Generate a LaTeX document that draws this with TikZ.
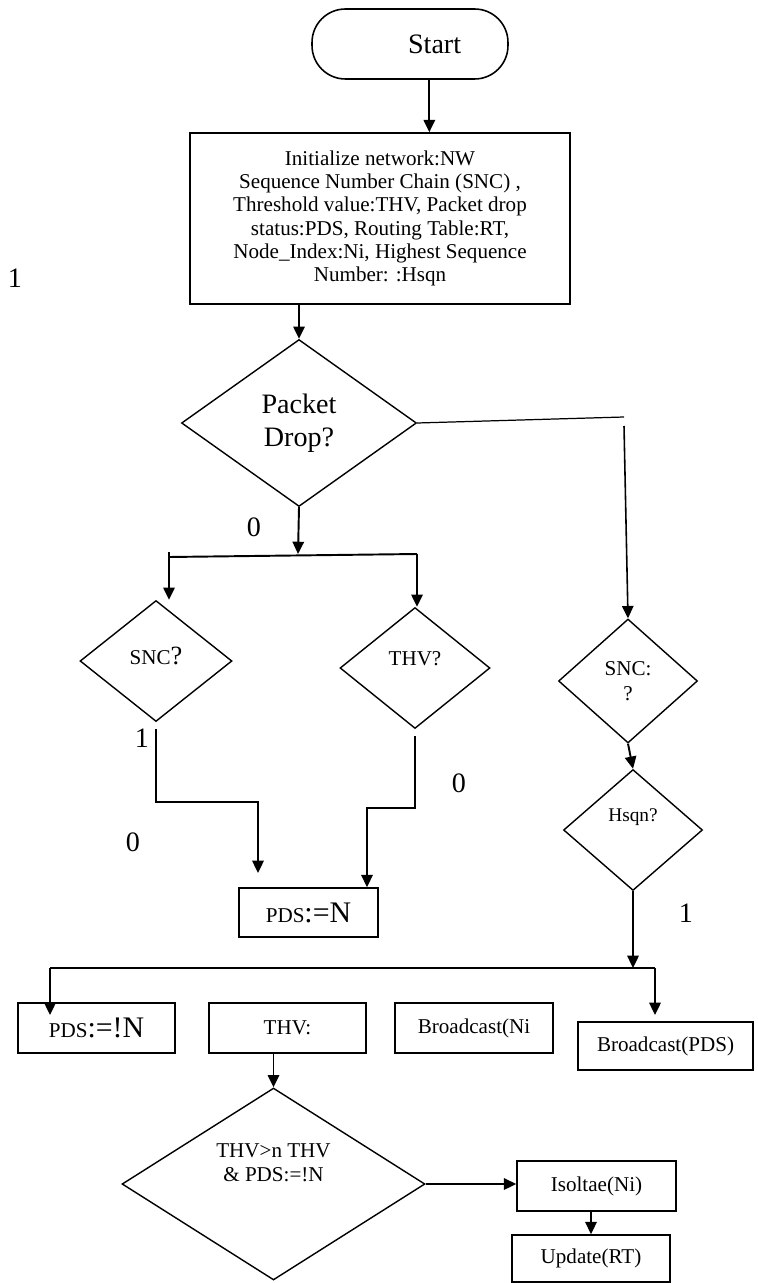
\documentclass[tikz,border=0pt]{standalone}
\usepackage{fontspec}
\setmainfont{Liberation Serif}
\usetikzlibrary{shapes.geometric,arrows.meta}

\begin{document}
\begin{tikzpicture}[x=0.02cm, y=-0.02cm, >={Triangle[length=7pt,width=6.5pt]},
    box/.style={draw, line width=0.9pt, inner sep=2pt, align=center, font=\fontsize{12}{13.2}\selectfont},
    decision/.style={draw, diamond, line width=0.8pt, inner sep=0pt, align=center, font=\fontsize{12}{14}\selectfont},
    inside/.style={align=center, font=\fontsize{12}{14}\selectfont},
    flow/.style={->, line width=1.1pt},
    bit/.style={font=\fontsize{16}{18}\selectfont}]
    \useasboundingbox (0,0) rectangle (757,1283);

    % Start and setup
    \node[draw, line width=0.9pt, rounded corners=19pt, minimum width=3.92cm, minimum height=1.4cm,
        label={[xshift=14pt, font=\fontsize{16}{18}\selectfont]center:Start}] (start) at (410,44) {};
    \node[box, minimum width=7.6cm, minimum height=3.42cm] (init) at (380,218.5)
        {Initialize network:NW\\ Sequence Number Chain (SNC) ,\\ Threshold value:THV, Packet drop\\
         status:PDS, Routing Table:RT,\\ Node\_Index:Ni, Highest Sequence\\ Number: :Hsqn};
    \draw[flow] ([xshift=11pt]start.south) -- ([xshift=11pt]start.south |- init.north);

    % Packet drop test
    \node[decision, minimum width=4.7cm, minimum height=3.34cm, font=\fontsize{16}{19}\selectfont]
        (pd) at (299,423) {Packet\\ Drop?};
    \draw[flow] (pd.north |- init.south) -- (pd.north);

    % Checks
    \node[decision, minimum width=3.04cm, minimum height=2.42cm,
        label={[inside, yshift=3pt]center:{SNC\fontsize{15}{17}\selectfont?}}] (sncq) at (156,661) {};
    \node[decision, minimum width=3.0cm, minimum height=2.42cm,
        label={[inside, yshift=5.5pt]center:THV?}] (thvq) at (415,668) {};
    \node[decision, minimum width=2.78cm, minimum height=2.48cm] (sncr) at (628,681) {SNC:\\ ?};
    \node[decision, minimum width=2.78cm, minimum height=2.42cm,
        label={[inside, yshift=7.4pt, font=\fontsize{11}{13}\selectfont]center:Hsqn?}] (hsqn) at (633,830) {};

    % Results
    \node[box, minimum width=2.78cm, minimum height=0.98cm] (pdsn) at (308.5,912.5)
        {PDS\fontsize{17}{19}\selectfont:=N};
    \node[box, minimum width=3.14cm, minimum height=1.0cm] (pdsnn) at (96.5,1028)
        {PDS\fontsize{17}{19}\selectfont:=!N};
    \node[box, minimum width=3.14cm, minimum height=1.0cm] (thvb) at (287.5,1028) {THV:};
    \node[box, minimum width=3.16cm, minimum height=1.0cm] (bcni) at (474,1028) {Broadcast(Ni};
    \node[box, minimum width=3.5cm, minimum height=0.96cm] (bcpds) at (665.5,1046) {Broadcast(PDS)};

    % Isolation
    \node[decision, minimum width=6.06cm, minimum height=3.84cm,
        label={[inside, yshift=12pt]center:THV>n THV\\ \& PDS:=!N}] (bd) at (273.5,1184) {};
    \node[box, minimum width=3.18cm, minimum height=1.0cm] (iso) at (596.5,1186) {Isoltae(Ni)};
    \node[box, minimum width=3.16cm, minimum height=0.94cm] (upd) at (591,1258.5) {Update(RT)};

    % Wires
    \coordinate (pdr) at (624,417);
    \coordinate (pdd) at (624,426);
    \coordinate (split) at (298,554);
    \coordinate (bl) at (169,552);
    \coordinate (br) at (417,554);
    \coordinate (k1) at (258,802);
    \coordinate (e1) at (258,873);
    \coordinate (k2) at (367,808);
    \coordinate (hl) at (50,968);
    \coordinate (hr) at (655,968);

    \draw[line width=0.7pt] (pd.east) -- (pdr);
    \draw[flow, line width=0.9pt] (pdd) -- (sncr.north);
    \draw[flow] (pd.south) -- (split);
    \draw[line width=1.1pt] (bl) -- (169,557) -- (br);
    \draw[flow] (169,557) -- (bl |- sncq.north);
    \draw[flow] (br) -- (br |- thvq.north);
    \draw[flow] ([yshift=-4pt]sncq.south) |- (k1) -- (e1);
    \draw[flow] ([yshift=-4pt]thvq.south) |- (k2) -- (k2 |- pdsn.north);
    \draw[flow] (sncr.south) -- (hsqn.north);
    \draw[flow] (hsqn.south) -- (hsqn.south |- hr);
    \draw[line width=1.1pt] (hl) -- (hr);
    \draw[flow] (hl) -- ++(0,47);
    \draw[flow] (hr) -- ++(0,47);
    \draw[flow] (bd.north |- thvb.south) -- (bd.north);
    \draw[flow] (bd.east) -- (bd.east -| iso.west);
    \draw[flow] (upd.north |- iso.south) -- (upd.north);

    % Branch labels
    \node[bit] (b1) at (15,278) {1};
    \node[bit] (b2) at (254,527) {0};
    \node[bit] (b3) at (142,738) {1};
    \node[bit] (b4) at (133,842) {0};
    \node[bit] (b5) at (459,783) {0};
    \node[bit] (b6) at (686,913) {1};
\end{tikzpicture}
\end{document}
